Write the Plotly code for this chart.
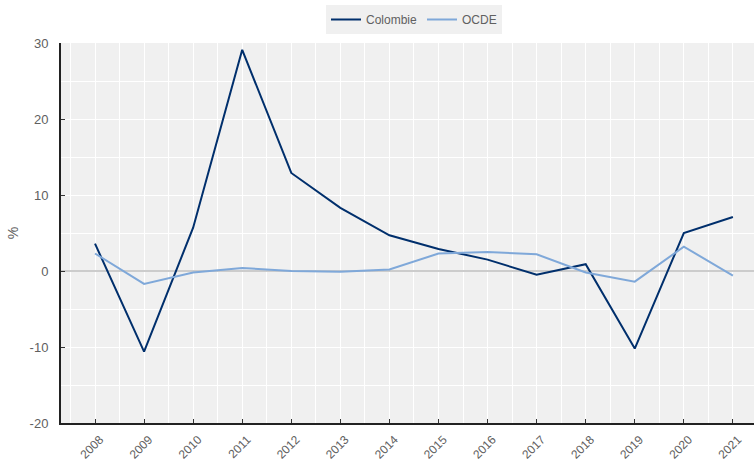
import plotly.graph_objects as go

years = list(range(2008, 2022))
colombie = [3.6, -10.6, 5.7, 29.1, 12.9, 8.3, 4.7, 2.9, 1.5, -0.5, 0.9, -10.2, 5.0, 7.1]
ocde = [2.3, -1.7, -0.2, 0.4, 0.0, -0.1, 0.2, 2.3, 2.5, 2.2, -0.2, -1.4, 3.2, -0.6]
y_ticks = [-20, -10, 0, 10, 20, 30]
y_ticklabels = ["-20", "-10", "0", "10", "20", "30"]

font_family = "Liberation Sans Narrow, Arial Narrow, Liberation Sans, sans-serif"
txt = "#606060"

fig = go.Figure()
fig.add_trace(go.Scatter(x=years, y=colombie, mode="lines", name="Colombie",
                         line=dict(color="#002F6C", width=2)))
fig.add_trace(go.Scatter(x=years, y=ocde, mode="lines", name="OCDE",
                         line=dict(color="#7FA8D9", width=2)))

fig.update_layout(
    width=754, height=459,
    margin=dict(l=61, r=0, t=43, b=36, autoexpand=False),
    paper_bgcolor="white",
    plot_bgcolor="#f0f0f0",
    font=dict(family=font_family, size=12, color=txt),
    showlegend=True,
    legend=dict(orientation="h", x=414 / 754, xref="container", xanchor="center",
                y=1 - 5 / 459, yref="container", yanchor="top",
                bgcolor="#f0f0f0", font=dict(size=12, color=txt),
                itemwidth=30, tracegroupgap=0),
)
fig.update_xaxes(
    range=[2007.307, 2021.43], automargin=False,
    tickmode="array", tickvals=years, ticktext=[str(y) for y in years],
    tickangle=-45, ticks="inside", ticklen=4, tickcolor="#333333",
    ticklabelstandoff=3, ticklabelshift=5,
    showgrid=True, gridcolor="white", gridwidth=1,
    minor=dict(dtick=0.5, tick0=2007.5, showgrid=True, gridcolor="white", gridwidth=1),
    showline=True, linecolor="#222222", linewidth=2,
    zeroline=False, tickfont=dict(size=12, color=txt),
)
fig.update_yaxes(
    range=[-20, 30], automargin=False,
    tickmode="array", tickvals=y_ticks, ticktext=y_ticklabels,
    ticks="inside", ticklen=4, tickcolor="#333333",
    ticklabelstandoff=8,
    showgrid=True, gridcolor="white", gridwidth=1,
    minor=dict(dtick=5, tick0=0, showgrid=True, gridcolor="white", gridwidth=1),
    showline=True, linecolor="#222222", linewidth=2,
    zeroline=True, zerolinecolor="#cccccc", zerolinewidth=2,
    title=dict(text="%", standoff=8, font=dict(size=14, color=txt)),
    tickfont=dict(size=13, color=txt),
)

fig.write_html("out.html", config={"displayModeBar": False},
               post_script="document.body.style.margin='0';")
